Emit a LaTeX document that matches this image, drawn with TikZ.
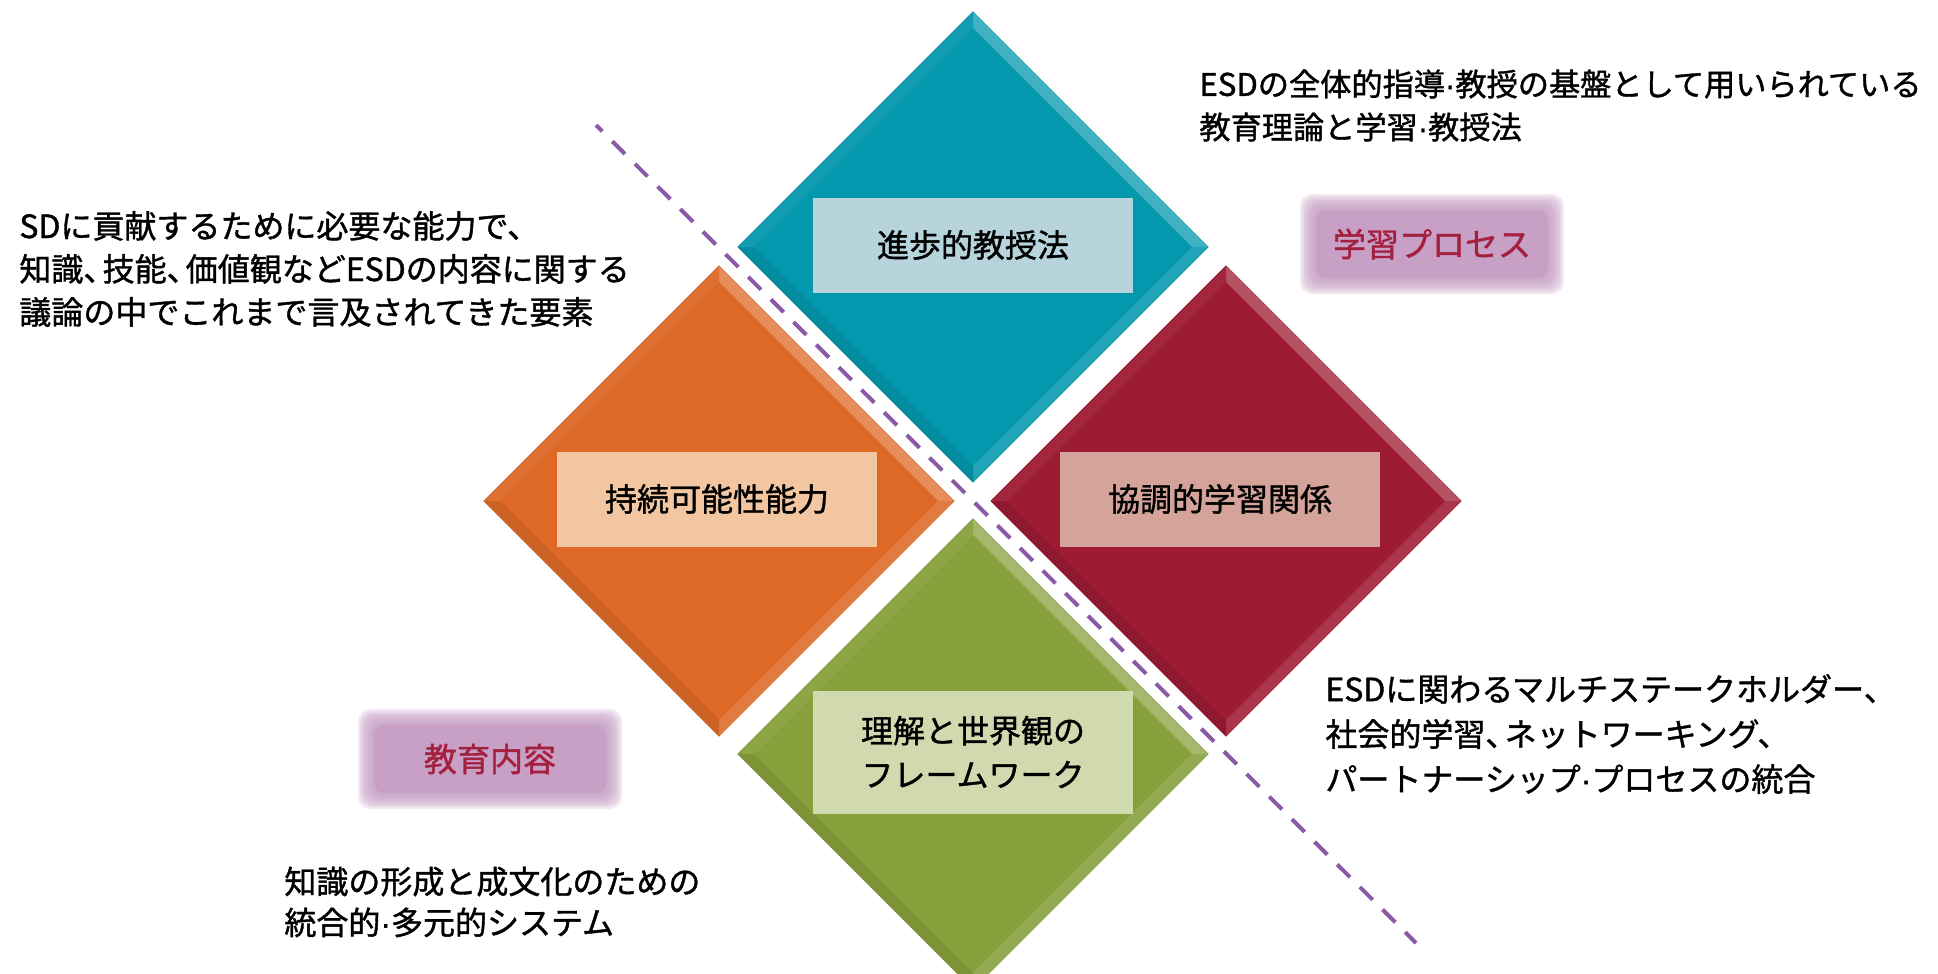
\documentclass[tikz,border=0pt]{standalone}
\usepackage{fontspec}
\setmainfont{Noto Sans CJK JP}[FakeBold=1.2]
\newfontfamily\latinf{Liberation Sans}[FakeBold=1.2]
\usetikzlibrary{calc}
\definecolor{cTeal}{HTML}{0398AD}
\definecolor{cOrange}{HTML}{DE6926}
\definecolor{cCrimson}{HTML}{9D1B33}
\definecolor{cOlive}{HTML}{87A03B}
\definecolor{lblTeal}{HTML}{B7D4DC}
\definecolor{lblOrange}{HTML}{F2C6A1}
\definecolor{lblCrimson}{HTML}{D4A39A}
\definecolor{lblOlive}{HTML}{D1D9AE}
\definecolor{lilac}{HTML}{C8A0C6}
\definecolor{callText}{HTML}{A3203F}
\definecolor{dashPurple}{HTML}{8B5AA6}
\newcommand\dt{{\latinf\char"00B7}}
\newcommand\tn{\makebox[0.6em][l]{、}}
\newcommand\BevDia[4]{%
\begin{scope}[shift={(#2,#3)}]
 \coordinate (#1) at (0,0);
 \fill[#4, draw=#4!85!black, line width=0.5pt] (-235,0) -- (0,-235) -- (235,0) -- (0,235) -- cycle;
 \fill[#4!76!white] (0,-235) -- (235,0) -- (219,0) -- (0,-219) -- cycle;
 \fill[#4!88!white] (235,0) -- (0,235) -- (0,219) -- (219,0) -- cycle;
 \fill[#4!92!black] (0,235) -- (-235,0) -- (-219,0) -- (0,219) -- cycle;
 \fill[#4!95!white] (-235,0) -- (0,-235) -- (0,-219) -- (-219,0) -- cycle;
\end{scope}}
\newcommand\GlowBox[4]{%
 \foreach \i in {0,...,7} {\fill[lilac, opacity=0.22, rounded corners=6pt] ({#2-132+2*\i},{#3-50+2*\i}) rectangle ({#2+132-2*\i},{#3+50-2*\i});}
 \fill[lilac, rounded corners=5pt] ({#2-116},{#3-34}) rectangle ({#2+116},{#3+34});
 \node[callout] (#1) at (#2,#3) {#4};}
\tikzset{
 lbl/.style={minimum width=160pt, minimum height=47.5pt, inner sep=0pt, align=center, font=\fontsize{16}{22}\selectfont},
 note/.style={anchor=west, align=left, inner sep=0pt, font=\fontsize{16}{21.5}\selectfont},
 callout/.style={inner sep=0pt, text=callText, font=\fontsize{16.5}{20}\selectfont},
 divider/.style={dashPurple, line width=2pt, dash pattern=on 9pt off 7pt, dash phase=4.5pt}
}
\begin{document}
\begin{tikzpicture}[x=0.5pt, y=-0.5pt]
\useasboundingbox (0,0) rectangle (1938,974);
\fill[white] (0,0) rectangle (1938,974);
\BevDia{diaTop}{973}{247}{cTeal}
\BevDia{diaLeft}{719}{501}{cOrange}
\BevDia{diaRight}{1226}{501}{cCrimson}
\BevDia{diaBottom}{973}{754}{cOlive}
\node[lbl, fill=lblTeal] (lblTop) at (973,245) {進歩的教授法};
\node[lbl, fill=lblOrange] (lblLeft) at (717,499) {持続可能性能力};
\node[lbl, fill=lblCrimson] (lblRight) at (1220,499) {協調的学習関係};
\node[lbl, fill=lblOlive, minimum height=61.5pt] (lblBottom) at (973,752) {理解と世界観の\\フレームワーク};
\coordinate (dashA) at (596,125);
\coordinate (dashB) at (1416,943);
\draw[divider] (dashA) -- (dashB);
\GlowBox{callProc}{1432}{244}{学習プロセス}
\GlowBox{callCont}{490}{759}{教育内容}
\node[note, font=\fontsize{15.6}{21.5}\selectfont] (noteTR) at (1199,105.5) {ESDの全体的指導\dt 教授の基盤として用いられている\\教育理論と学習\dt 教授法};
\node[note] (noteL) at (19,269) {SDに貢献するために必要な能力で、\\知識\tn 技能\tn 価値観などESDの内容に関する\\議論の中でこれまで言及されてきた要素};
\node[note, font=\fontsize{16}{22.5}\selectfont] (noteBR) at (1325,734) {ESDに関わるマルチステークホルダー、\\社会的学習\tn ネットワーキング、\\パートナーシップ\dt プロセスの統合};
\node[note, font=\fontsize{16}{20.5}\selectfont] (noteBL) at (284,902) {知識の形成と成文化のための\\統合的\dt 多元的システム};
\end{tikzpicture}
\end{document}
